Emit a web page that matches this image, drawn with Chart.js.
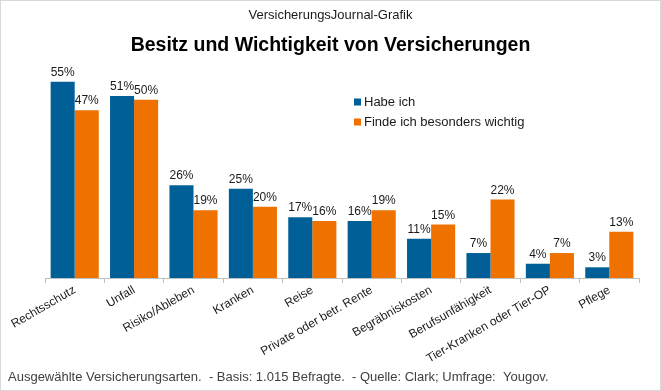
<!DOCTYPE html>
<html>
<head>
<meta charset="utf-8">
<script src="https://cdn.jsdelivr.net/npm/chart.js@4"></script>
<style>
    body { margin: 0; background: #fff; }
    #wrap { width: 661px; height: 391px; position: relative; }
</style>
</head>
<body>
<div id="wrap"><canvas id="chart"></canvas></div>
<script>
const kategorien = ['Rechtsschutz', 'Unfall', 'Risiko/Ableben', 'Kranken', 'Reise',
    'Private oder betr. Rente', 'Begräbniskosten', 'Berufsunfähigkeit',
    'Tier-Kranken oder Tier-OP', 'Pflege'];
const habeIch = [55, 51, 26, 25, 17, 16, 11, 7, 4, 3];
const wichtig = [47, 50, 19, 20, 16, 19, 15, 22, 7, 13];
const serien = ['Habe ich', 'Finde ich besonders wichtig'];
const fussnote = 'Ausgewählte Versicherungsarten.  - Basis: 1.015 Befragte.  - Quelle: Clark; Umfrage:  Yougov.';

const blau = '#005f96';
const orange = '#ef7100';

Chart.defaults.font.family = '"Liberation Sans", Arial, sans-serif';
Chart.defaults.color = '#1a1a1a';

// Werte über den Balken, Legende im Diagramm, Fußnote und Rahmen
const extras = {
    id: 'extras',
    beforeDraw(chart) {
        const ctx = chart.ctx;
        ctx.save();
        ctx.fillStyle = '#fff';
        ctx.fillRect(0, 0, chart.width, chart.height);
        ctx.restore();
    },
    afterDatasetsDraw(chart) {
        const ctx = chart.ctx;
        ctx.save();
        ctx.font = '12px "Liberation Sans", Arial, sans-serif';
        ctx.fillStyle = '#1a1a1a';
        ctx.textAlign = 'center';
        ctx.textBaseline = 'alphabetic';
        chart.data.datasets.forEach((ds, i) => {
            chart.getDatasetMeta(i).data.forEach((bar, j) => {
                ctx.fillText(ds.data[j] + '%', bar.x, bar.y - 6);
            });
        });
        ctx.restore();
    },
    afterDraw(chart) {
        const ctx = chart.ctx;
        ctx.save();
        // Legende
        ctx.font = '13px "Liberation Sans", Arial, sans-serif';
        ctx.textBaseline = 'middle';
        ctx.textAlign = 'left';
        chart.data.datasets.forEach((ds, i) => {
            const y = 102 + i * 20;
            ctx.fillStyle = ds.backgroundColor;
            ctx.fillRect(354, y - 3.5, 7, 7);
            ctx.fillStyle = '#1a1a1a';
            ctx.fillText(ds.label, 364, y);
        });
        // Fußnote
        ctx.font = '13px "Liberation Sans", Arial, sans-serif';
        ctx.fillStyle = '#404040';
        ctx.fillText(fussnote, 8, 377);
        // Rahmen
        ctx.strokeStyle = '#d9d9d9';
        ctx.lineWidth = 1;
        ctx.strokeRect(0.5, 0.5, chart.width - 1, chart.height - 1);
        ctx.restore();
    }
};

const config = {
    type: 'bar',
    data: {
        labels: kategorien,
        datasets: [{
            label: serien[0],
            data: habeIch,
            backgroundColor: blau
        }, {
            label: serien[1],
            data: wichtig,
            backgroundColor: orange
        }]
    },
    options: {
        responsive: true,
        maintainAspectRatio: false,
        animation: false,
        categoryPercentage: 0.81,
        barPercentage: 1,
        layout: {
            padding: 0
        },
        scales: {
            x: {
                grid: {
                    offset: true,
                    drawOnChartArea: false,
                    tickLength: 5,
                    color: '#bfbfbf'
                },
                border: { color: '#bfbfbf' },
                ticks: {
                    autoSkip: false,
                    minRotation: 30,
                    maxRotation: 30,
                    padding: 0,
                    color: '#1a1a1a',
                    font: { size: 12 }
                },
                afterFit(scale) {
                    scale.height = 113;
                    scale.paddingLeft = 45;
                    scale.paddingRight = 22;
                }
            },
            y: {
                display: false,
                min: 0,
                max: 60
            }
        },
        plugins: {
            legend: { display: false },
            tooltip: { enabled: false },
            title: {
                display: true,
                text: 'VersicherungsJournal-Grafik',
                color: '#1a1a1a',
                font: { size: 13, weight: 'normal' },
                padding: { top: 8, bottom: 6 }
            },
            subtitle: {
                display: true,
                text: 'Besitz und Wichtigkeit von Versicherungen',
                color: '#000',
                font: { size: 19.5, weight: 'bold' },
                padding: { top: 4, bottom: 7 }
            }
        }
    },
    plugins: [extras]
};

const chart = new Chart(document.getElementById('chart'), config);
</script>
</body>
</html>
